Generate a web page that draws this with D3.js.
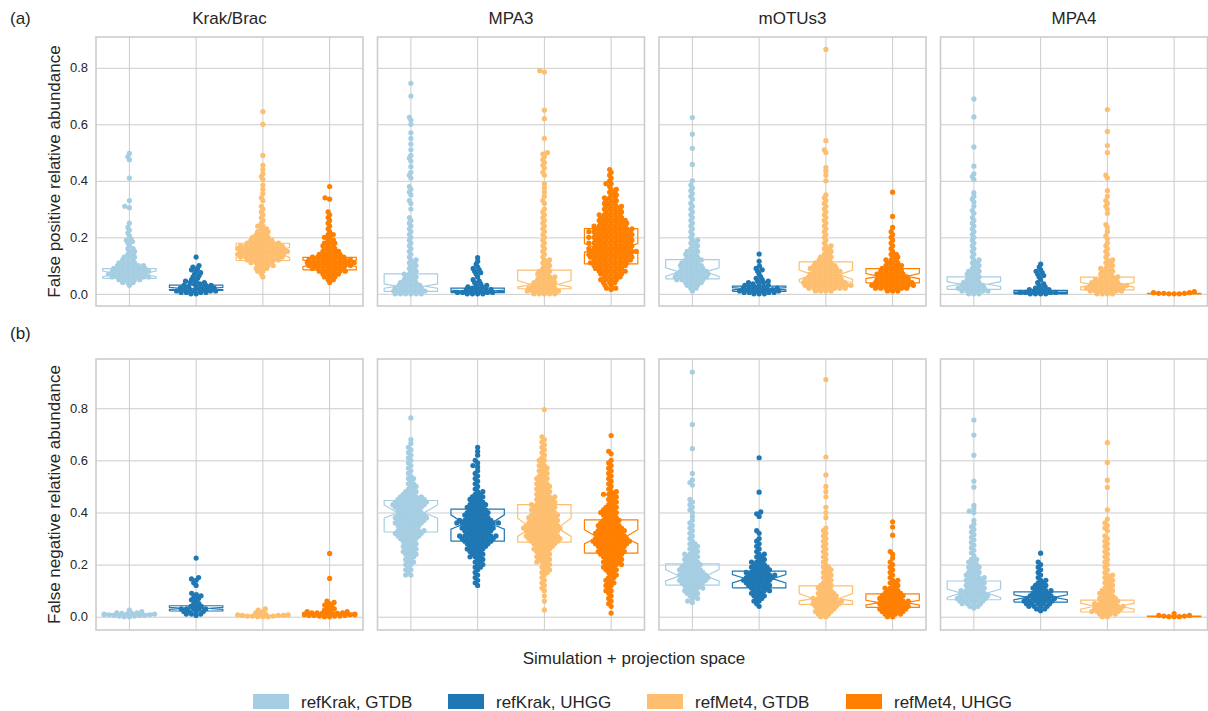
<!DOCTYPE html>
<html><head><meta charset="utf-8">
<script src="https://cdn.jsdelivr.net/npm/d3@7"></script>
<style>
body{margin:0;background:#fff}
text{font-family:"Liberation Sans",Arial,sans-serif;fill:#262626}
</style>
</head><body>
<svg id="c" width="1208" height="711"></svg>
<script>
// ---------------- data ----------------
const panelTitles = ["Krak/Brac", "MPA3", "mOTUs3", "MPA4"];
const seriesNames = ["refKrak, GTDB", "refKrak, UHGG", "refMet4, GTDB", "refMet4, UHGG"];
const rowLabels = ["(a)", "(b)"];
const rowYTitles = ["False positive relative abundance", "False negative relative abundance"];
const xTitle = "Simulation + projection space";
const yTicks = [0.0, 0.2, 0.4, 0.6, 0.8];

// box stats per group: [q1, notch low, median, notch high, q3]
const fpBoxKrak   = [[0.055,0.061,0.071,0.081,0.089],[0.012,0.015,0.019,0.023,0.031],[0.118,0.129,0.147,0.165,0.179],[0.085,0.096,0.108,0.120,0.129]];
const fpBoxMPA3   = [[0.009,0.020,0.027,0.035,0.071],[0.004,0.008,0.010,0.013,0.020],[0.018,0.024,0.033,0.047,0.084],[0.106,0.147,0.161,0.178,0.231]];
const fpBoxMOTUs3 = [[0.053,0.062,0.078,0.092,0.121],[0.009,0.014,0.018,0.022,0.027],[0.042,0.051,0.068,0.084,0.113],[0.039,0.054,0.062,0.072,0.089]];
const fpBoxMPA4   = [[0.016,0.026,0.034,0.043,0.060],[0.000,0.003,0.005,0.007,0.012],[0.014,0.024,0.032,0.040,0.059],[0.000,0.0005,0.001,0.0015,0.002]];
const fnBoxKrak   = [[0.006,0.008,0.009,0.010,0.012],[0.022,0.028,0.032,0.036,0.042],[0.001,0.002,0.003,0.004,0.005],[0.005,0.007,0.009,0.011,0.014]];
const fnBoxMPA3   = [[0.325,0.378,0.399,0.429,0.446],[0.290,0.336,0.357,0.391,0.413],[0.286,0.308,0.340,0.378,0.430],[0.244,0.280,0.304,0.334,0.372]];
const fnBoxMOTUs3 = [[0.121,0.137,0.156,0.181,0.203],[0.111,0.130,0.146,0.162,0.175],[0.047,0.060,0.070,0.089,0.118],[0.036,0.045,0.054,0.063,0.088]];
const fnBoxMPA4   = [[0.065,0.074,0.091,0.106,0.137],[0.056,0.065,0.074,0.084,0.095],[0.018,0.029,0.040,0.052,0.064],[0.000,0.0005,0.001,0.0015,0.002]];

// observations per group: [value, number of points at that value]
const fp_krak_kg = [[0.497,1],[0.485,1],[0.475,1],[0.41,1],[0.33,1],[0.31,1],[0.305,1],[0.25,1],[0.235,1],[0.225,1],[0.215,1],[0.205,1],[0.195,1],[0.19,1],[0.185,1],[0.18,1],[0.17,1],[0.16,2],[0.15,2],[0.14,2],[0.13,3],[0.12,3],[0.11,4],[0.10,6],[0.09,7],[0.08,8],[0.07,8],[0.06,8],[0.05,5],[0.04,3],[0.03,1]];
const fp_krak_ku = [[0.13,1],[0.10,1],[0.095,1],[0.09,1],[0.085,1],[0.08,1],[0.075,1],[0.07,1],[0.065,1],[0.06,1],[0.055,1],[0.05,1],[0.045,2],[0.04,2],[0.035,2],[0.03,3],[0.025,3],[0.02,3],[0.015,4],[0.01,4],[0.005,4],[0.0,2]];
const fp_krak_mg = [[0.645,1],[0.60,1],[0.49,1],[0.455,1],[0.44,1],[0.425,1],[0.415,1],[0.405,1],[0.385,1],[0.37,1],[0.355,1],[0.34,1],[0.33,1],[0.31,1],[0.30,1],[0.29,1],[0.28,1],[0.27,1],[0.26,1],[0.25,1],[0.24,2],[0.23,2],[0.22,3],[0.21,3],[0.20,4],[0.19,5],[0.18,7],[0.17,9],[0.16,10],[0.15,10],[0.14,10],[0.13,9],[0.12,7],[0.11,5],[0.10,4],[0.09,3],[0.08,2],[0.07,1],[0.06,1]];
const fp_krak_mu = [[0.38,1],[0.34,1],[0.335,1],[0.29,1],[0.28,1],[0.27,1],[0.26,1],[0.25,1],[0.24,1],[0.23,1],[0.22,1],[0.21,2],[0.20,2],[0.19,2],[0.18,3],[0.17,3],[0.16,3],[0.15,4],[0.14,5],[0.13,7],[0.12,9],[0.11,10],[0.10,9],[0.09,7],[0.08,6],[0.07,4],[0.06,3],[0.05,2],[0.04,1]];

const fp_mpa3_kg = [[0.745,1],[0.70,1],[0.625,1],[0.615,1],[0.60,1],[0.57,1],[0.55,1],[0.53,1],[0.51,1],[0.49,1],[0.48,1],[0.47,1],[0.45,1],[0.43,1],[0.42,1],[0.41,1],[0.38,1],[0.37,1],[0.36,1],[0.35,1],[0.33,1],[0.32,1],[0.30,1],[0.27,1],[0.26,1],[0.25,1],[0.24,1],[0.23,1],[0.22,1],[0.21,1],[0.20,1],[0.19,1],[0.18,1],[0.17,1],[0.16,1],[0.15,1],[0.14,1],[0.13,1],[0.12,2],[0.11,2],[0.10,2],[0.09,2],[0.08,2],[0.07,3],[0.06,3],[0.05,3],[0.04,4],[0.03,5],[0.02,6],[0.01,7],[0.0,6]];
const fp_mpa3_ku = [[0.128,1],[0.115,1],[0.105,1],[0.095,1],[0.09,1],[0.085,1],[0.08,1],[0.075,1],[0.07,1],[0.06,1],[0.05,1],[0.045,1],[0.04,1],[0.035,1],[0.03,2],[0.025,2],[0.02,2],[0.015,3],[0.01,3],[0.005,4],[0.0,4]];
const fp_mpa3_mg = [[0.79,1],[0.785,1],[0.65,1],[0.62,1],[0.55,1],[0.50,1],[0.495,1],[0.485,1],[0.475,1],[0.465,1],[0.455,1],[0.445,1],[0.43,1],[0.42,1],[0.39,1],[0.375,1],[0.36,1],[0.345,1],[0.33,1],[0.32,1],[0.30,1],[0.29,1],[0.28,1],[0.27,1],[0.26,1],[0.25,1],[0.24,1],[0.23,1],[0.22,1],[0.21,1],[0.20,1],[0.19,1],[0.18,1],[0.17,1],[0.16,1],[0.15,1],[0.14,1],[0.13,1],[0.12,2],[0.11,2],[0.10,2],[0.09,2],[0.08,3],[0.07,3],[0.06,4],[0.05,4],[0.04,5],[0.03,5],[0.02,6],[0.01,7],[0.0,5]];
const fp_mpa3_mu = [[0.44,1],[0.43,1],[0.42,1],[0.41,1],[0.40,1],[0.39,2],[0.38,1],[0.37,2],[0.36,2],[0.35,2],[0.34,3],[0.33,3],[0.32,3],[0.31,4],[0.30,4],[0.29,4],[0.28,5],[0.27,5],[0.26,6],[0.25,6],[0.24,7],[0.23,8],[0.22,9],[0.21,8],[0.20,9],[0.19,8],[0.18,9],[0.17,8],[0.16,9],[0.15,10],[0.14,9],[0.13,9],[0.12,8],[0.11,8],[0.10,7],[0.09,6],[0.08,6],[0.07,5],[0.06,4],[0.05,4],[0.04,3],[0.03,2],[0.02,2],[0.015,1]];

const fp_motus_kg = [[0.624,1],[0.565,1],[0.515,1],[0.458,1],[0.40,1],[0.385,1],[0.375,1],[0.365,1],[0.355,1],[0.345,1],[0.335,1],[0.32,1],[0.31,1],[0.30,1],[0.29,1],[0.28,1],[0.27,1],[0.26,1],[0.25,1],[0.24,1],[0.23,1],[0.22,1],[0.21,1],[0.20,1],[0.19,2],[0.18,2],[0.17,2],[0.16,2],[0.15,3],[0.14,3],[0.13,3],[0.12,4],[0.11,4],[0.10,5],[0.09,5],[0.08,6],[0.07,7],[0.06,7],[0.05,6],[0.04,4],[0.03,3],[0.02,2],[0.01,1]];
const fp_motus_ku = [[0.141,1],[0.115,1],[0.098,1],[0.09,1],[0.085,1],[0.08,1],[0.07,1],[0.06,1],[0.055,1],[0.05,1],[0.045,2],[0.04,2],[0.035,2],[0.03,2],[0.025,3],[0.02,3],[0.015,4],[0.01,4],[0.005,4],[0.0,3]];
const fp_motus_mg = [[0.865,1],[0.542,1],[0.51,1],[0.50,1],[0.447,1],[0.435,1],[0.42,1],[0.40,1],[0.35,1],[0.34,1],[0.33,1],[0.32,1],[0.31,1],[0.30,1],[0.29,1],[0.28,1],[0.27,1],[0.26,1],[0.25,1],[0.24,1],[0.23,1],[0.22,1],[0.21,1],[0.20,1],[0.19,1],[0.18,1],[0.17,2],[0.16,2],[0.15,2],[0.14,2],[0.13,3],[0.12,3],[0.11,4],[0.10,5],[0.09,6],[0.08,6],[0.07,6],[0.06,7],[0.05,8],[0.04,9],[0.03,10],[0.02,8],[0.01,4]];
const fp_motus_mu = [[0.36,1],[0.274,1],[0.235,1],[0.22,1],[0.21,1],[0.20,1],[0.19,1],[0.18,1],[0.17,1],[0.16,1],[0.15,1],[0.14,2],[0.13,2],[0.12,3],[0.11,3],[0.10,4],[0.09,4],[0.08,5],[0.07,6],[0.06,6],[0.05,7],[0.04,8],[0.03,9],[0.02,7],[0.01,3]];

const fp_mpa4_kg = [[0.69,1],[0.626,1],[0.52,1],[0.452,1],[0.425,1],[0.415,1],[0.405,1],[0.358,1],[0.345,1],[0.335,1],[0.325,1],[0.31,1],[0.295,1],[0.285,1],[0.27,1],[0.26,1],[0.25,1],[0.24,1],[0.23,1],[0.22,1],[0.21,1],[0.20,1],[0.19,1],[0.18,1],[0.17,1],[0.16,1],[0.15,1],[0.14,1],[0.13,1],[0.12,2],[0.11,2],[0.10,2],[0.09,2],[0.08,3],[0.07,3],[0.06,3],[0.05,3],[0.04,4],[0.03,5],[0.02,6],[0.01,6],[0.0,3]];
const fp_mpa4_ku = [[0.105,1],[0.095,1],[0.085,1],[0.08,1],[0.075,1],[0.07,1],[0.065,1],[0.06,1],[0.05,1],[0.04,1],[0.035,1],[0.03,1],[0.025,1],[0.02,2],[0.015,2],[0.01,3],[0.005,4],[0.0,4]];
const fp_mpa4_mg = [[0.652,1],[0.575,1],[0.525,1],[0.50,1],[0.42,1],[0.41,1],[0.365,1],[0.345,1],[0.33,1],[0.32,1],[0.31,1],[0.30,1],[0.285,1],[0.245,1],[0.235,1],[0.22,1],[0.205,1],[0.195,1],[0.18,1],[0.17,1],[0.16,1],[0.15,1],[0.14,1],[0.13,1],[0.12,2],[0.11,2],[0.10,2],[0.09,3],[0.08,3],[0.07,3],[0.06,4],[0.05,5],[0.04,6],[0.03,8],[0.02,8],[0.01,7],[0.0,4]];
const fp_mpa4_mu = [[0.008,1],[0.004,2],[0.002,3],[0.0,3]];

const fn_krak_kg = [[0.025,1],[0.02,1],[0.015,2],[0.0125,2],[0.01,3],[0.0075,3],[0.005,3],[0.0025,2],[0.0,2]];
const fn_krak_ku = [[0.225,1],[0.15,1],[0.145,1],[0.14,1],[0.13,1],[0.12,1],[0.09,1],[0.085,1],[0.08,1],[0.075,1],[0.07,1],[0.065,1],[0.06,1],[0.05,2],[0.04,3],[0.03,5],[0.02,4],[0.01,3],[0.005,1]];
const fn_krak_mg = [[0.03,1],[0.025,1],[0.02,1],[0.015,1],[0.01,2],[0.0075,2],[0.005,3],[0.0025,3],[0.0,3]];
const fn_krak_mu = [[0.243,1],[0.147,1],[0.06,1],[0.055,1],[0.05,1],[0.045,1],[0.04,1],[0.035,1],[0.03,1],[0.025,2],[0.02,2],[0.015,3],[0.0125,3],[0.01,3],[0.0075,3],[0.005,3],[0.0025,3],[0.0,2]];

const fn_mpa3_kg = [[0.763,1],[0.68,1],[0.665,1],[0.65,1],[0.64,1],[0.63,1],[0.62,1],[0.61,1],[0.60,1],[0.59,1],[0.58,1],[0.57,1],[0.56,1],[0.55,1],[0.54,1],[0.53,2],[0.52,1],[0.51,2],[0.50,2],[0.49,2],[0.48,3],[0.47,3],[0.46,5],[0.45,6],[0.44,7],[0.43,7],[0.42,6],[0.41,5],[0.40,5],[0.39,6],[0.38,7],[0.37,6],[0.36,6],[0.35,5],[0.34,4],[0.33,6],[0.32,6],[0.31,5],[0.30,4],[0.29,3],[0.28,3],[0.27,3],[0.26,3],[0.25,3],[0.24,3],[0.23,2],[0.22,2],[0.21,2],[0.20,2],[0.19,1],[0.18,2],[0.17,1],[0.16,2]];
const fn_mpa3_ku = [[0.65,1],[0.635,1],[0.62,1],[0.60,1],[0.59,1],[0.58,1],[0.575,1],[0.56,1],[0.55,1],[0.54,1],[0.53,1],[0.52,1],[0.51,1],[0.50,1],[0.49,1],[0.48,2],[0.47,2],[0.46,3],[0.45,3],[0.44,3],[0.43,4],[0.42,4],[0.41,4],[0.40,5],[0.39,5],[0.38,5],[0.37,7],[0.36,9],[0.35,6],[0.34,7],[0.33,6],[0.32,5],[0.31,8],[0.30,7],[0.29,6],[0.28,5],[0.27,4],[0.26,4],[0.25,3],[0.24,3],[0.23,3],[0.22,2],[0.21,2],[0.20,2],[0.19,2],[0.18,1],[0.17,1],[0.16,1],[0.15,1],[0.14,1],[0.13,1],[0.12,1]];
const fn_mpa3_mg = [[0.795,1],[0.69,1],[0.68,1],[0.67,1],[0.66,1],[0.65,1],[0.64,1],[0.63,1],[0.62,1],[0.61,1],[0.60,2],[0.59,1],[0.58,2],[0.57,2],[0.56,2],[0.55,2],[0.54,2],[0.53,3],[0.52,2],[0.51,3],[0.50,3],[0.49,3],[0.48,3],[0.47,3],[0.46,4],[0.45,4],[0.44,4],[0.43,5],[0.42,5],[0.41,5],[0.40,5],[0.39,6],[0.38,6],[0.37,6],[0.36,6],[0.35,7],[0.34,8],[0.33,7],[0.32,6],[0.31,7],[0.30,7],[0.29,6],[0.28,5],[0.27,4],[0.26,4],[0.25,3],[0.24,3],[0.23,3],[0.22,3],[0.21,3],[0.20,2],[0.19,2],[0.18,2],[0.17,2],[0.16,1],[0.15,1],[0.14,1],[0.13,1],[0.12,1],[0.11,1],[0.10,1],[0.08,1],[0.06,1],[0.026,1]];
const fn_mpa3_mu = [[0.695,1],[0.635,1],[0.625,1],[0.60,1],[0.59,1],[0.58,1],[0.57,1],[0.56,1],[0.55,1],[0.54,1],[0.53,1],[0.52,1],[0.51,1],[0.50,1],[0.49,1],[0.48,2],[0.47,3],[0.46,2],[0.45,2],[0.44,2],[0.43,2],[0.42,3],[0.41,3],[0.40,4],[0.39,3],[0.38,3],[0.37,4],[0.36,4],[0.35,5],[0.34,5],[0.33,6],[0.32,6],[0.31,6],[0.30,7],[0.29,8],[0.28,7],[0.27,6],[0.26,5],[0.25,6],[0.24,5],[0.23,4],[0.22,4],[0.21,4],[0.20,4],[0.19,3],[0.18,3],[0.17,2],[0.16,2],[0.15,2],[0.14,2],[0.13,2],[0.12,2],[0.11,1],[0.10,2],[0.09,1],[0.08,1],[0.07,1],[0.06,1],[0.05,1],[0.04,1],[0.014,1]];

const fn_motus_kg = [[0.939,1],[0.738,1],[0.645,1],[0.55,1],[0.525,1],[0.515,1],[0.505,1],[0.45,1],[0.44,1],[0.43,1],[0.42,1],[0.41,1],[0.40,1],[0.385,1],[0.37,1],[0.36,1],[0.35,1],[0.34,1],[0.33,1],[0.32,1],[0.31,1],[0.30,1],[0.29,1],[0.28,2],[0.27,2],[0.26,2],[0.25,2],[0.24,3],[0.23,3],[0.22,3],[0.21,3],[0.20,4],[0.19,4],[0.18,5],[0.17,5],[0.16,6],[0.15,6],[0.14,6],[0.13,5],[0.12,4],[0.11,4],[0.10,3],[0.09,3],[0.08,2],[0.07,2],[0.06,1],[0.055,1]];
const fn_motus_ku = [[0.61,1],[0.478,1],[0.402,1],[0.395,1],[0.385,1],[0.33,1],[0.32,1],[0.30,1],[0.29,1],[0.28,1],[0.27,1],[0.26,1],[0.25,1],[0.24,2],[0.23,2],[0.22,2],[0.21,3],[0.20,3],[0.19,4],[0.18,4],[0.17,5],[0.16,6],[0.15,6],[0.14,6],[0.13,5],[0.12,5],[0.11,4],[0.10,4],[0.09,3],[0.08,3],[0.07,2],[0.06,2],[0.05,1],[0.04,1]];
const fn_motus_mg = [[0.91,1],[0.613,1],[0.544,1],[0.50,1],[0.48,1],[0.46,1],[0.42,1],[0.40,1],[0.38,1],[0.34,1],[0.33,1],[0.32,1],[0.31,1],[0.30,1],[0.29,1],[0.28,1],[0.27,1],[0.26,1],[0.25,1],[0.24,1],[0.23,1],[0.22,1],[0.21,1],[0.20,1],[0.19,2],[0.18,2],[0.17,2],[0.16,2],[0.15,2],[0.14,2],[0.13,2],[0.12,3],[0.11,3],[0.10,3],[0.09,4],[0.08,4],[0.07,5],[0.06,6],[0.05,6],[0.04,5],[0.03,4],[0.02,4],[0.01,3],[0.0,2]];
const fn_motus_mu = [[0.364,1],[0.344,1],[0.313,1],[0.25,1],[0.24,1],[0.225,1],[0.21,1],[0.20,1],[0.19,1],[0.18,1],[0.17,1],[0.16,1],[0.15,1],[0.14,2],[0.13,2],[0.12,2],[0.11,3],[0.10,3],[0.09,4],[0.08,5],[0.07,5],[0.06,6],[0.05,6],[0.04,6],[0.03,6],[0.02,5],[0.01,4],[0.0,2]];

const fn_mpa4_kg = [[0.755,1],[0.697,1],[0.62,1],[0.52,1],[0.497,1],[0.427,1],[0.415,1],[0.405,1],[0.40,1],[0.37,1],[0.355,1],[0.345,1],[0.335,1],[0.325,1],[0.315,1],[0.305,1],[0.295,1],[0.285,1],[0.275,1],[0.265,1],[0.255,1],[0.245,1],[0.235,1],[0.22,2],[0.21,2],[0.20,2],[0.19,3],[0.18,2],[0.17,3],[0.16,3],[0.15,4],[0.14,4],[0.13,4],[0.12,4],[0.11,4],[0.10,5],[0.09,5],[0.08,6],[0.07,6],[0.06,5],[0.05,4],[0.04,2],[0.033,1]];
const fn_mpa4_ku = [[0.244,1],[0.21,1],[0.20,1],[0.19,1],[0.18,1],[0.17,1],[0.16,1],[0.15,1],[0.14,2],[0.13,2],[0.12,3],[0.11,3],[0.10,4],[0.09,4],[0.08,5],[0.07,6],[0.06,6],[0.05,5],[0.04,4],[0.03,2],[0.023,1]];
const fn_mpa4_mg = [[0.668,1],[0.592,1],[0.524,1],[0.496,1],[0.41,1],[0.375,1],[0.36,1],[0.35,1],[0.34,1],[0.33,1],[0.31,1],[0.30,1],[0.29,1],[0.28,1],[0.27,1],[0.26,1],[0.25,1],[0.24,1],[0.23,1],[0.22,1],[0.21,1],[0.20,1],[0.19,1],[0.18,1],[0.17,1],[0.16,2],[0.15,2],[0.14,2],[0.13,2],[0.12,2],[0.11,2],[0.10,3],[0.09,3],[0.08,3],[0.07,4],[0.06,4],[0.05,5],[0.04,6],[0.03,6],[0.02,6],[0.01,4],[0.0,2]];
const fn_mpa4_mu = [[0.012,1],[0.005,2],[0.0025,2],[0.0,3]];

// ---------------- style / layout ----------------
const colors = ["#a6cee3", "#1f78b4", "#fdbf6f", "#ff7f00"];
const gridColor = "#cccccc";
const panelLeft = [96, 377.5, 659, 940.5];
const panelWidth = 267;
const rowGeo = [
  {top: 37, bottom: 306, domain: [-0.043, 0.909]},
  {top: 359, bottom: 630, domain: [-0.051, 0.989]}
];
const DOT_R = 2.6;    // drawn radius
const SEP_X = 5.2;    // swarm horizontal separation
const SEP_Y = 2.95;   // swarm vertical separation (elliptical collision)

const table = [
  {boxes: [fpBoxKrak, fpBoxMPA3, fpBoxMOTUs3, fpBoxMPA4],
   points: [[fp_krak_kg, fp_krak_ku, fp_krak_mg, fp_krak_mu],
            [fp_mpa3_kg, fp_mpa3_ku, fp_mpa3_mg, fp_mpa3_mu],
            [fp_motus_kg, fp_motus_ku, fp_motus_mg, fp_motus_mu],
            [fp_mpa4_kg, fp_mpa4_ku, fp_mpa4_mg, fp_mpa4_mu]]},
  {boxes: [fnBoxKrak, fnBoxMPA3, fnBoxMOTUs3, fnBoxMPA4],
   points: [[fn_krak_kg, fn_krak_ku, fn_krak_mg, fn_krak_mu],
            [fn_mpa3_kg, fn_mpa3_ku, fn_mpa3_mg, fn_mpa3_mu],
            [fn_motus_kg, fn_motus_ku, fn_motus_mg, fn_motus_mu],
            [fn_mpa4_kg, fn_mpa4_ku, fn_mpa4_mg, fn_mpa4_mu]]}
];

const svg = d3.select("#c");

// beeswarm with elliptical collision: (dx/SEP_X)^2 + (dy/SEP_Y)^2 >= 1
function swarm(pairs, y, half) {
  const vals = [];
  pairs.forEach(([v, c]) => { for (let i = 0; i < c; i++) vals.push(v); });
  vals.sort((a, b) => a - b);
  const placed = [];
  for (const v of vals) {
    const py = y(v);
    const nb = [];
    for (let i = placed.length - 1; i >= 0; i--) {
      const q = placed[i];
      const dy = q.y - py;
      if (dy >= SEP_Y) break;
      if (Math.abs(dy) < SEP_Y) nb.push(q);
    }
    const cands = [0];
    for (const q of nb) {
      const t = (q.y - py) / SEP_Y;
      const dx = SEP_X * Math.sqrt(Math.max(0, 1 - t * t));
      cands.push(q.x + dx, q.x - dx);
    }
    cands.sort((a, b) => (Math.abs(a) - Math.abs(b)) || (a - b));
    let xo = 0;
    for (const c of cands) {
      let ok = true;
      for (const q of nb) {
        const ex = (c - q.x) / SEP_X, ey = (q.y - py) / SEP_Y;
        if (ex * ex + ey * ey < 1 - 1e-6) { ok = false; break; }
      }
      if (ok) { xo = c; break; }
    }
    placed.push({x: xo, y: py});
  }
  return placed.map(p => ({x: Math.max(-half, Math.min(half, p.x)), y: p.y}));
}

table.forEach((row, ri) => {
  const geo = rowGeo[ri];
  const y = d3.scaleLinear().domain(geo.domain).range([geo.bottom, geo.top]);
  const ph = geo.bottom - geo.top;

  panelTitles.forEach((title, pi) => {
    const x0 = panelLeft[pi];
    const x = d3.scaleBand().domain(seriesNames).range([x0, x0 + panelWidth]);
    const bw = x.bandwidth();
    const boxW = bw * 0.8;
    const g = svg.append("g");

    const ya = g.append("g").attr("transform", `translate(${x0},0)`)
      .call(d3.axisLeft(y).tickValues(yTicks).tickSize(-panelWidth).tickPadding(8)
        .tickFormat(pi === 0 ? d3.format(".1f") : () => ""));
    ya.select(".domain").remove();
    ya.selectAll("line").attr("stroke", gridColor).attr("stroke-width", 1);
    ya.selectAll("text").attr("font-size", 13).style("fill", "#262626");

    const xa = g.append("g").attr("transform", `translate(0,${geo.bottom})`)
      .call(d3.axisBottom(x).tickSize(-ph).tickFormat(() => ""));
    xa.select(".domain").remove();
    xa.selectAll("line").attr("stroke", gridColor).attr("stroke-width", 1);

    row.boxes[pi].forEach((b, si) => {
      const [q1, lo, med, hi, q3] = b;
      const cx = x(seriesNames[si]) + bw / 2;
      const L = cx - boxW / 2, Rr = cx + boxW / 2, nl = cx - boxW / 4, nr = cx + boxW / 4;
      const poly = [[L, q1], [Rr, q1], [Rr, lo], [nr, med], [Rr, hi], [Rr, q3], [L, q3], [L, hi], [nl, med], [L, lo], [L, q1]];
      g.append("path")
        .attr("d", d3.line().x(p => p[0]).y(p => y(p[1]))(poly))
        .attr("fill", "none").attr("stroke", colors[si]).attr("stroke-width", 1.2);
      g.append("line").attr("x1", nl).attr("x2", nr).attr("y1", y(med)).attr("y2", y(med))
        .attr("stroke", colors[si]).attr("stroke-width", 1.2);
    });

    row.points[pi].forEach((pairs, si) => {
      const cx = x(seriesNames[si]) + bw / 2;
      const pts = swarm(pairs, y, boxW / 2 - 1.5);
      g.append("g").selectAll("circle").data(pts).join("circle")
        .attr("cx", p => cx + p.x).attr("cy", p => p.y).attr("r", DOT_R)
        .attr("fill", colors[si]);
    });

    g.append("rect").attr("x", x0).attr("y", geo.top).attr("width", panelWidth).attr("height", ph)
      .attr("fill", "none").attr("stroke", gridColor).attr("stroke-width", 1.6);

    if (ri === 0) {
      svg.append("text").attr("x", x0 + panelWidth / 2).attr("y", 24)
        .attr("text-anchor", "middle").attr("font-size", 17).text(title);
    }
  });

  svg.append("text").attr("x", 10).attr("y", ri === 0 ? 24 : 339)
    .attr("font-size", 17).text(rowLabels[ri]);
  svg.append("text")
    .attr("transform", `translate(54,${(geo.top + geo.bottom) / 2}) rotate(-90)`)
    .attr("text-anchor", "middle").attr("dominant-baseline", "central")
    .attr("font-size", 17).text(rowYTitles[ri]);
});

svg.append("text").attr("x", 634).attr("y", 664).attr("text-anchor", "middle")
  .attr("font-size", 17).text(xTitle);

const legendX = [253, 448, 647, 846];
const lg = svg.append("g");
seriesNames.forEach((s, i) => {
  lg.append("rect").attr("x", legendX[i]).attr("y", 694).attr("width", 36).attr("height", 15)
    .attr("fill", colors[i]);
  lg.append("text").attr("x", legendX[i] + 48).attr("y", 702).attr("dominant-baseline", "central")
    .attr("font-size", 17).text(s);
});
</script>
</body></html>
